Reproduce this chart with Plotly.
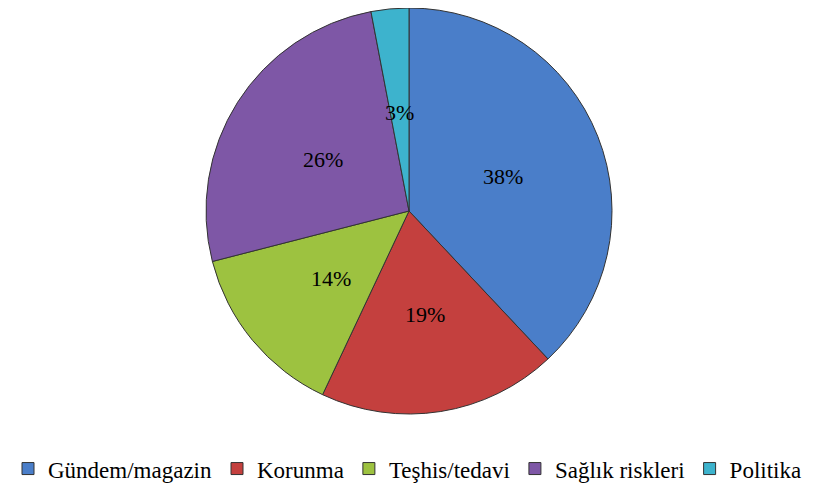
import math
import plotly.graph_objects as go

categories = ["Gündem/magazin", "Korunma", "Teşhis/tedavi", "Sağlık riskleri", "Politika"]
values = [38, 19, 14, 26, 3]
colors = ["#4A7EC9", "#C4403E", "#9DC240", "#7E57A6", "#3DB3CD"]

W, H = 821, 486
# pie placement (figure pixels)
CX, CY, R = 401, 203, 203
LABEL_R = 0.5

fig = go.Figure(go.Pie(
    labels=categories,
    values=values,
    sort=False,
    direction="clockwise",
    rotation=0,
    marker=dict(colors=colors, line=dict(color="#333333", width=1)),
    textinfo="none",
    domain=dict(x=[(CX - R) / W, (CX + R) / W], y=[1 - (CY + R) / H, 1 - (CY - R) / H]),
    hoverinfo="label+percent",
))

total = sum(values)
cum = 0
annotations = []
for v in values:
    mid = (cum + v / 2) / total * 2 * math.pi
    cum += v
    px = CX + LABEL_R * R * math.sin(mid)
    py = CY - LABEL_R * R * math.cos(mid) + 3
    annotations.append(dict(
        x=px / W, y=1 - py / H, xref="paper", yref="paper",
        text=f"{v}%", showarrow=False,
        font=dict(family="Liberation Serif, Times New Roman, serif", size=22, color="black"),
        xanchor="center", yanchor="middle",
    ))

fig.update_layout(
    width=W, height=H,
    margin=dict(l=0, r=0, t=0, b=0),
    paper_bgcolor="white",
    font=dict(family="Liberation Serif, Times New Roman, serif", size=23, color="black"),
    showlegend=True,
    annotations=annotations,
    legend=dict(orientation="h", x=0.0, xanchor="left", y=0.008, yanchor="bottom",
                font=dict(family="Liberation Serif, Times New Roman, serif", size=23, color="black"),
                itemwidth=30, tracegroupgap=0),
)

fig.write_html("out.html")
